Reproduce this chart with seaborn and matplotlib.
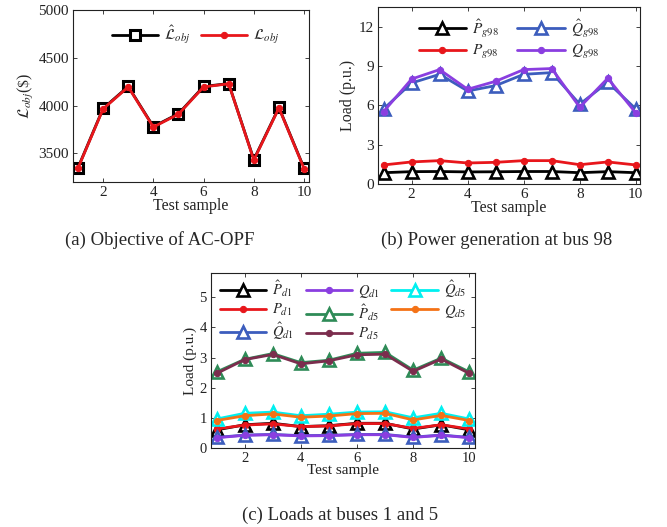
import matplotlib
matplotlib.use("Agg")
import matplotlib.pyplot as plt
import seaborn as sns
import numpy as np

# ---------------- data ----------------
samples = [1, 2, 3, 4, 5, 6, 7, 8, 9, 10]

# (a) objective
L_obj_hat = [3350, 3970, 4200, 3780, 3915, 4200, 4230, 3435, 3980, 3345]
L_obj = [3345, 3965, 4195, 3775, 3910, 4195, 4228, 3430, 3975, 3340]

# (b) generation at bus 98
Pg98_hat = [0.86, 0.94, 0.95, 0.92, 0.93, 0.95, 0.95, 0.86, 0.94, 0.86]
Pg98 = [1.45, 1.68, 1.78, 1.60, 1.65, 1.78, 1.78, 1.47, 1.68, 1.45]
Qg98_hat = [5.72, 7.70, 8.36, 7.09, 7.50, 8.36, 8.49, 6.08, 7.75, 5.72]
Qg98 = [5.52, 8.00, 8.72, 7.22, 7.83, 8.72, 8.80, 5.85, 8.06, 5.42]

# (c) loads at buses 1 and 5
Pd1_hat = [0.60, 0.77, 0.82, 0.71, 0.74, 0.82, 0.82, 0.63, 0.77, 0.60]
Pd1 = [0.63, 0.76, 0.80, 0.71, 0.73, 0.81, 0.81, 0.65, 0.77, 0.63]
Qd1_hat = [0.35, 0.43, 0.45, 0.41, 0.42, 0.45, 0.45, 0.36, 0.43, 0.35]
Qd1 = [0.34, 0.42, 0.44, 0.40, 0.41, 0.44, 0.44, 0.35, 0.42, 0.34]
Pd5_hat = [2.52, 2.94, 3.13, 2.83, 2.91, 3.14, 3.17, 2.58, 2.98, 2.52]
Pd5 = [2.47, 2.93, 3.10, 2.79, 2.89, 3.09, 3.11, 2.54, 2.95, 2.47]
Qd5_hat = [0.96, 1.15, 1.19, 1.07, 1.12, 1.19, 1.20, 1.00, 1.15, 0.96]
Qd5 = [0.91, 1.07, 1.13, 1.02, 1.06, 1.14, 1.15, 0.93, 1.08, 0.91]

xticks = [2, 4, 6, 8, 10]

# ---------------- style ----------------
sns.set_style("ticks", {"xtick.direction": "in", "ytick.direction": "in"})
plt.rcParams["font.family"] = ["Liberation Serif", "DejaVu Serif"]
plt.rcParams["mathtext.fontset"] = "stix"
plt.rcParams["axes.linewidth"] = 0.8
plt.rcParams["axes.edgecolor"] = "#222222"

BLACK = "#000000"
RED = "#e8161b"
BLUE = "#3c5dbd"
PURPLE = "#8a3ee0"
GREEN = "#2e8b57"
MAROON = "#7b2d4d"
CYAN = "#00f0f0"
ORANGE = "#f47216"

fig = plt.figure(figsize=(6.67, 5.27), dpi=100)

ax_a = fig.add_axes([0.1094, 0.6546, 0.354, 0.3264])
ax_b = fig.add_axes([0.5667, 0.6509, 0.3928, 0.336])
ax_c = fig.add_axes([0.3163, 0.1499, 0.3958, 0.332])


def hat_line(ax, y, color, label, marker="^", ms=8, mew=1.9):
    sns.lineplot(x=samples, y=y, ax=ax, color=color, linewidth=2.0,
                 marker=marker, markersize=ms, markerfacecolor="white",
                 markeredgecolor=color, markeredgewidth=mew, label=label)


def dot_line(ax, y, color, label):
    sns.lineplot(x=samples, y=y, ax=ax, color=color, linewidth=2.0,
                 marker="o", markersize=4.5, markerfacecolor=color,
                 markeredgecolor=color, label=label)


def style_axes(ax, ylim, yticks, fs=11):
    ax.set_xlim(0.8, 10.2)
    ax.set_ylim(*ylim)
    ax.set_xticks(xticks)
    ax.set_yticks(yticks)
    ax.tick_params(axis="both", which="both", direction="in", top=True,
                   right=True, labelsize=fs, length=3, width=0.6,
                   colors="#222222", labelcolor="#222222", pad=3)
    for s in ax.spines.values():
        s.set_visible(True)
    ax.set_xlabel("Test sample", fontsize=fs + 0.5, labelpad=-1, color="#222222")


# (a)
hat_line(ax_a, L_obj_hat, BLACK, r"$\hat{\mathcal{L}}_{obj}$", marker="s", ms=6.5, mew=2.2)
dot_line(ax_a, L_obj, RED, r"$\mathcal{L}_{obj}$")
style_axes(ax_a, (3200, 5000), [3500, 4000, 4500, 5000])
ax_a.set_ylabel(r"$\mathcal{L}_{obj}$($\$$)", fontsize=11.5, labelpad=2)
ax_a.legend(loc="upper center", bbox_to_anchor=(0.52, 1.0), ncol=2,
            frameon=False, fontsize=11, handlelength=3.0, columnspacing=0.7,
            handletextpad=0.4)

# (b)
hat_line(ax_b, Pg98_hat, BLACK, r"$\hat{P}_{g98}$")
dot_line(ax_b, Pg98, RED, r"$P_{g98}$")
hat_line(ax_b, Qg98_hat, BLUE, r"$\hat{Q}_{g98}$")
dot_line(ax_b, Qg98, PURPLE, r"$Q_{g98}$")
style_axes(ax_b, (0, 13.5), [0, 3, 6, 9, 12])
ax_b.set_xlim(0.8, 10.15)
ax_b.set_ylabel("Load (p.u.)", fontsize=11.5, labelpad=2)
ax_b.legend(loc="upper center", bbox_to_anchor=(0.5, 1.02), ncol=2,
            frameon=False, fontsize=11, handlelength=3.1, columnspacing=1.2,
            handletextpad=0.4, labelspacing=0.25)

# (c)
hat_line(ax_c, Pd1_hat, BLACK, r"$\hat{P}_{d1}$")
dot_line(ax_c, Pd1, RED, r"$P_{d1}$")
hat_line(ax_c, Qd1_hat, BLUE, r"$\hat{Q}_{d1}$")
dot_line(ax_c, Qd1, PURPLE, r"$Q_{d1}$")
hat_line(ax_c, Pd5_hat, GREEN, r"$\hat{P}_{d5}$")
dot_line(ax_c, Pd5, MAROON, r"$P_{d5}$")
hat_line(ax_c, Qd5_hat, CYAN, r"$\hat{Q}_{d5}$")
dot_line(ax_c, Qd5, ORANGE, r"$Q_{d5}$")
style_axes(ax_c, (0, 5.8), [0, 1, 2, 3, 4, 5], fs=10.5)
ax_c.set_ylabel("Load (p.u.)", fontsize=11, labelpad=2)
ax_c.legend(loc="upper center", bbox_to_anchor=(0.5, 1.045), ncol=3,
            frameon=False, fontsize=10.5, handlelength=3.2, columnspacing=0.8,
            handletextpad=0.4, labelspacing=0.2)

# captions
fig.text(0.24, 1 - 240 / 527, "(a) Objective of AC-OPF", ha="center",
         va="center", fontsize=13.5)
fig.text(0.745, 1 - 240 / 527, "(b) Power generation at bus 98", ha="center",
         va="center", fontsize=13.5)
fig.text(0.51, 1 - 515 / 527, "(c) Loads at buses 1 and 5", ha="center",
         va="center", fontsize=13.5)

fig.savefig("out.png", dpi=100)
